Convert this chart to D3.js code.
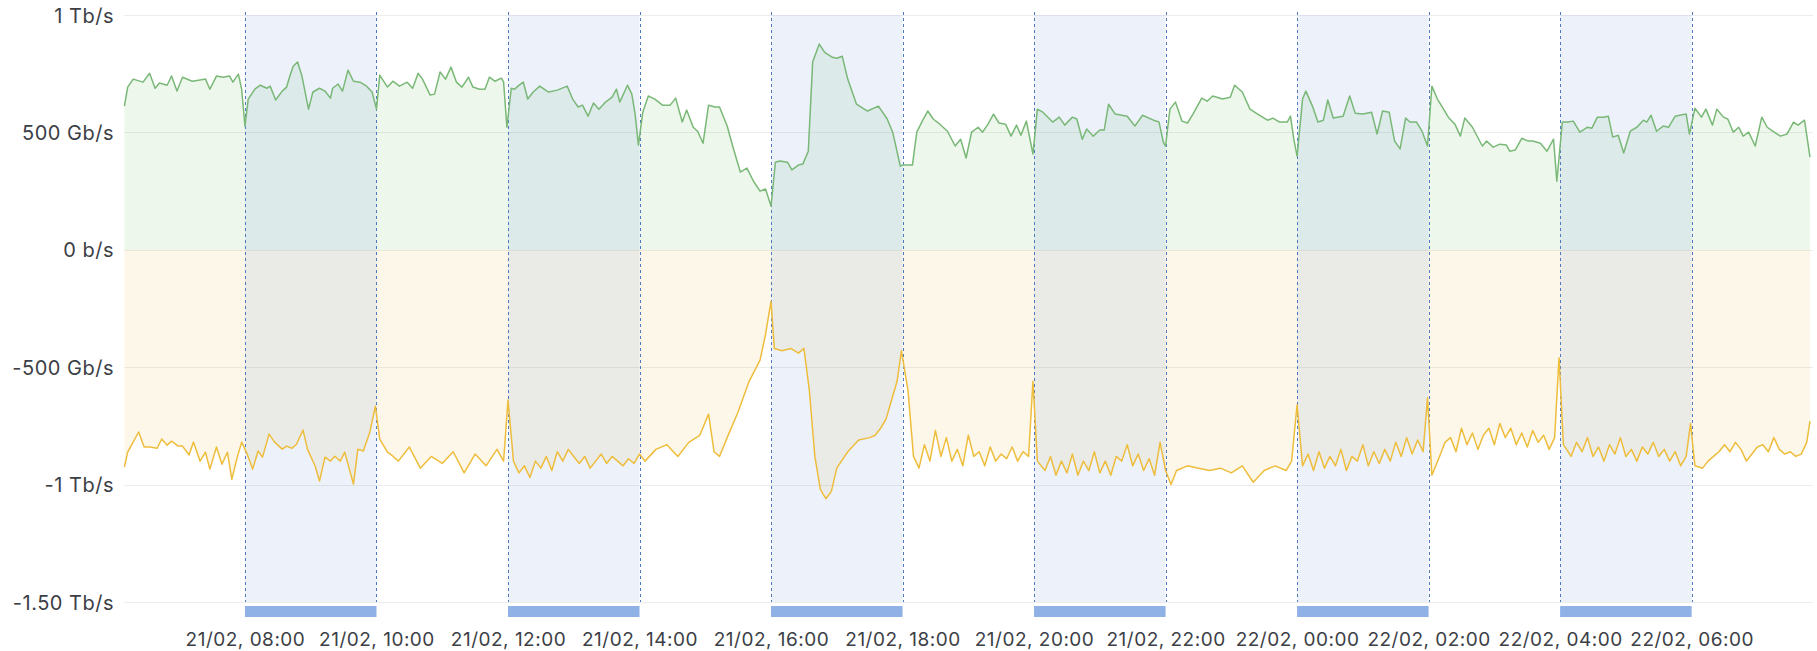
<!DOCTYPE html>
<html>
<head>
<meta charset="utf-8">
<script src="https://cdn.jsdelivr.net/npm/d3@7"></script>
<style>
  html, body { margin: 0; padding: 0; background: #ffffff; }
  svg { display: block; }
</style>
</head>
<body>
<svg id="chart" width="1817" height="651"></svg>
<script>
// ---- Data (time in minutes since 21/02 00:00, values in Gb/s) ----
const inTimes = [370,373,378,387,393,398,402,409,413,418,423,432,439,444,448,454,460,466,469,474,477,480,483,489,494,500,503,508,514,518,521,524,528,532,538,542,548,553,558,560,565,569,574,579,585,591,596,600,603,610,615,
621,628,633,638,642,649,653,658,663,668,673,678,684,688,694,699,703,708,714,716,719,723,726,729,734,738,743,749,757,765,774,779,784,788,793,798,803,809,815,819,822,829,833,836,839,843,848,854,861,868,873,879,883,889,893,898,903,909,913,920,925,932,938,944,950,955,960,964,968,975,979,985,989,994,998,1004,1009,1016,1020,1025,1030,1038,1048,1058,1066,1071,1078,
1080,1089,1093,1098,1103,1108,1114,1121,1128,1133,1138,1143,1149,1153,1158,1163,1168,1174,1179,1184,1188,1193,1195,1199,1203,1208,1217,1223,1228,1235,1239,1244,1248,1254,1260,1264,1268,1274,1285,1292,1299,1309,1314,1318,1320,1324,1329,1335,1340,1345,1353,1358,1363,1372,1379,1383,1390,1397,1404,1413,1418,1424,1431,1434,1437,1440,1445,1448,1454,1459,1464,1468,1473,1482,1488,1493,1500,1508,1513,1518,1524,1529,1534,
1539,1543,1549,1554,1559,1563,1568,1572,1578,1584,1589,1593,1600,1609,1613,1619,1625,1631,1634,1639,1645,1651,1655,1662,1668,1674,1677,1682,1687,1692,1698,1705,1709,1714,1719,1724,1728,1733,1738,1744,1750,1756,1759,1763,1768,1774,1779,1785,1789,1795,1798,1803,1809,1813,1819,1823,1829,1833,1838,1843,1847,1852,1858,1864,1869,1874,1881,1887,1893,1897,1903,1908];
const inValues = [612,693,727,714,752,688,710,701,740,676,735,718,723,727,684,740,735,740,714,748,684,527,642,684,701,688,697,638,676,693,740,782,800,740,599,672,688,676,646,688,706,676,765,718,714,697,672,599,744,693,718,
697,714,688,752,727,659,663,757,727,778,714,693,735,693,684,684,735,718,731,714,522,688,684,697,714,642,672,697,672,680,697,642,608,616,569,625,599,629,650,684,629,701,663,578,446,586,655,642,616,616,646,544,595,522,505,454,616,608,608,527,442,331,348,292,250,259,186,373,378,373,340,361,365,420,800,876,841,820,816,824,727,620,591,612,557,501,356,
361,361,501,548,591,557,535,505,442,471,391,501,522,501,535,578,540,535,484,531,488,548,501,408,599,586,544,565,531,565,557,471,514,484,510,510,620,578,569,527,573,552,544,458,442,599,629,548,540,578,646,633,655,642,650,701,672,599,578,552,561,544,544,569,471,399,642,676,612,544,552,638,561,569,655,582,578,586,493,591,586,463,430,
561,544,544,505,442,697,642,612,565,535,484,561,522,442,463,437,450,446,420,425,475,463,463,454,420,471,292,544,544,548,501,522,518,565,565,569,480,488,412,505,522,552,544,573,505,527,522,569,573,578,493,603,565,599,531,599,565,557,501,522,484,501,442,565,522,505,484,493,544,531,552,395];

const outTimes = [370,373,378,383,388,393,400,404,409,413,419,423,429,433,439,444,448,454,459,464,468,473,477,482,487,492,496,502,507,514,518,523,527,533,537,544,548,553,558,562,567,571,574,579,583,588,594,599,603,610,615,
620,630,640,650,660,670,680,690,700,710,716,720,725,730,735,740,745,750,755,760,765,770,775,780,785,790,795,800,805,810,815,820,825,830,835,840,845,855,865,875,885,895,903,908,913,920,930,940,950,955,960,963,970,978,985,990,995,1000,1005,1010,1015,1020,1030,1040,1050,1055,1060,1065,1070,1075,1079,1085,1090,1095,1100,1105,1110,1115,1120,1125,1130,1135,1140,1145,1150,1155,1160,1165,1170,1175,1180,1185,1190,1195,1199,1203,1210,1215,1220,1225,1230,1235,1240,1245,1250,1255,1260,1265,1270,1275,1280,1285,1290,1295,1300,1305,1310,1315,1320,1325,1330,1340,1350,1360,1370,1380,1390,1400,1410,1420,1430,1435,1440,1445,1450,1455,1460,1465,1470,1475,1480,1485,1490,1495,1500,1505,1510,1515,1520,1525,1530,1535,1540,1545,1550,1555,1559,1563,1570,1575,1580,1585,1590,1595,1600,1605,1610,1615,1620,1625,1630,1635,1640,1645,1650,1655,1660,1665,1670,1675,1679,1683,1690,1695,1700,1705,1710,1715,1720,1725,1730,1735,1740,1745,1750,1755,1760,1765,1770,1775,1780,1785,1790,1795,1799,1803,1810,1815,1820,1825,1830,1835,1840,1845,1850,1855,1860,1865,1870,1875,1880,1885,1890,1895,1900,1905,1908];
const outValues = [-925,-862,-819,-776,-840,-840,-845,-806,-832,-815,-836,-836,-874,-819,-900,-862,-934,-840,-913,-862,-977,-883,-819,-870,-934,-857,-883,-785,-819,-849,-836,-845,-828,-768,-849,-921,-985,-883,-900,-879,-900,-862,-913,-998,-849,-857,-776,-666,-806,-862,-879,
-900,-840,-930,-880,-910,-860,-950,-870,-920,-850,-900,-640,-900,-950,-920,-970,-900,-930,-880,-940,-860,-900,-850,-880,-910,-880,-930,-900,-870,-910,-880,-900,-920,-890,-910,-870,-900,-850,-830,-880,-820,-790,-700,-860,-880,-800,-690,-560,-470,-360,-220,-420,-430,-420,-440,-420,-600,-880,-1020,-1060,-1030,-930,-860,-810,-800,-790,-760,-720,-640,-560,-430,-600,-880,-930,-830,-900,-770,-880,-800,-900,-850,-920,-790,-880,-860,-920,-840,-900,-870,-890,-840,-900,-860,-880,-560,-900,-940,-880,-960,-900,-950,-870,-960,-900,-940,-860,-950,-900,-960,-880,-900,-830,-920,-870,-940,-890,-960,-820,-940,-1000,-940,-920,-930,-940,-930,-950,-920,-990,-940,-920,-940,-900,-660,-920,-870,-940,-860,-930,-880,-920,-850,-940,-880,-900,-830,-920,-860,-910,-850,-900,-820,-880,-800,-870,-810,-860,-630,-960,-880,-820,-800,-860,-760,-830,-780,-850,-790,-760,-830,-740,-800,-760,-830,-780,-840,-770,-820,-790,-850,-800,-460,-830,-880,-820,-860,-800,-880,-840,-900,-830,-870,-800,-880,-850,-900,-840,-870,-820,-880,-850,-900,-860,-920,-880,-740,-920,-930,-900,-880,-860,-830,-860,-820,-850,-900,-870,-840,-830,-860,-800,-850,-870,-860,-880,-870,-820,-730];

const regionStarts = [480, 720, 960, 1200, 1440, 1680];   // 08:00, 12:00, 16:00, 20:00, 00:00, 04:00
const regionLengthMin = 120;
const xTickMinutes = [480,600,720,840,960,1080,1200,1320,1440,1560,1680,1800];
const xTickLabels = ["21/02, 08:00","21/02, 10:00","21/02, 12:00","21/02, 14:00","21/02, 16:00","21/02, 18:00","21/02, 20:00","21/02, 22:00","22/02, 00:00","22/02, 02:00","22/02, 04:00","22/02, 06:00"];
const yTickValues = [-1500, -1000, -500, 0, 500, 1000];
const yTickLabels = ["-1.50 Tb/s","-1 Tb/s","-500 Gb/s","0 b/s","500 Gb/s","1 Tb/s"];

// ---- Layout ----
const base = new Date(2024, 1, 21, 0, 0, 0);
const toDate = m => new Date(base.getTime() + m * 60000);
const plotLeft = 124.4, plotRight = 1810, plotTop = 15, plotBottom = 602;

const x = d3.scaleTime().domain([toDate(370), toDate(1908)]).range([plotLeft, plotRight]);
const y = d3.scaleLinear().domain([-1500, 1000]).range([plotBottom, plotTop]);

const svg = d3.select("#chart");
const font = "Inter, 'Noto Sans', sans-serif";

// grid
svg.append("g").selectAll("line").data(yTickValues).join("line")
  .attr("x1", plotLeft).attr("x2", 1813)
  .attr("y1", d => Math.round(y(d)) + 0.5).attr("y2", d => Math.round(y(d)) + 0.5)
  .attr("stroke", "#ececec").attr("stroke-width", 1);

const inData = inTimes.map((t, i) => ({ t: toDate(t), v: inValues[i] }));
const outData = outTimes.map((t, i) => ({ t: toDate(t), v: outValues[i] }));

const area = d3.area().x(d => x(d.t)).y0(y(0)).y1(d => y(d.v));
const line = d3.line().x(d => x(d.t)).y(d => y(d.v));

svg.append("path").datum(inData).attr("d", area).attr("fill", "rgba(115,191,105,0.13)");
svg.append("path").datum(outData).attr("d", area).attr("fill", "rgba(234,184,57,0.11)");

// regions
const regions = svg.append("g");
regions.selectAll("rect.band").data(regionStarts).join("rect")
  .attr("class", "band")
  .attr("x", d => x(toDate(d))).attr("width", d => x(toDate(d + regionLengthMin)) - x(toDate(d)))
  .attr("y", plotTop).attr("height", plotBottom - plotTop)
  .attr("fill", "rgba(110,150,220,0.13)");

// lines
svg.append("path").datum(inData).attr("d", line).attr("fill", "none")
  .attr("stroke", "#7ab877").attr("stroke-width", 1.5).attr("stroke-linejoin", "round");
svg.append("path").datum(outData).attr("d", line).attr("fill", "none")
  .attr("stroke", "#eebd3c").attr("stroke-width", 1.5).attr("stroke-linejoin", "round");

// region edges + bars
const edges = regionStarts.flatMap(d => [d, d + regionLengthMin]);
regions.selectAll("line.edge").data(edges).join("line")
  .attr("class", "edge")
  .attr("x1", d => Math.round(x(toDate(d))) + 0.5).attr("x2", d => Math.round(x(toDate(d))) + 0.5)
  .attr("y1", 12).attr("y2", plotBottom)
  .attr("stroke", "#4f78c0").attr("stroke-width", 1).attr("stroke-dasharray", "3,3");
regions.selectAll("rect.bar").data(regionStarts).join("rect")
  .attr("class", "bar")
  .attr("x", d => x(toDate(d))).attr("width", d => x(toDate(d + regionLengthMin)) - x(toDate(d)))
  .attr("y", 606).attr("height", 11)
  .attr("fill", "#8fb1e6");

// y axis
const yAxis = d3.axisLeft(y).tickValues(yTickValues).tickSize(0).tickPadding(0)
  .tickFormat((d, i) => yTickLabels[i]);
const gy = svg.append("g").attr("transform", "translate(114,0)").call(yAxis);
gy.select(".domain").remove();
gy.selectAll("text").attr("font-family", font).attr("font-size", 20).attr("letter-spacing", "0.5px")
  .attr("fill", "#3c4046").attr("dy", "0.35em");

// x axis
const xAxis = d3.axisBottom(x).tickValues(xTickMinutes.map(toDate)).tickSize(0).tickPadding(0)
  .tickFormat((d, i) => xTickLabels[i]);
const gx = svg.append("g").attr("transform", "translate(0,632)").call(xAxis);
gx.select(".domain").remove();
gx.selectAll("text").attr("font-family", font).attr("font-size", 19).attr("letter-spacing", "0.5px")
  .attr("fill", "#3c4046");
</script>
</body>
</html>
